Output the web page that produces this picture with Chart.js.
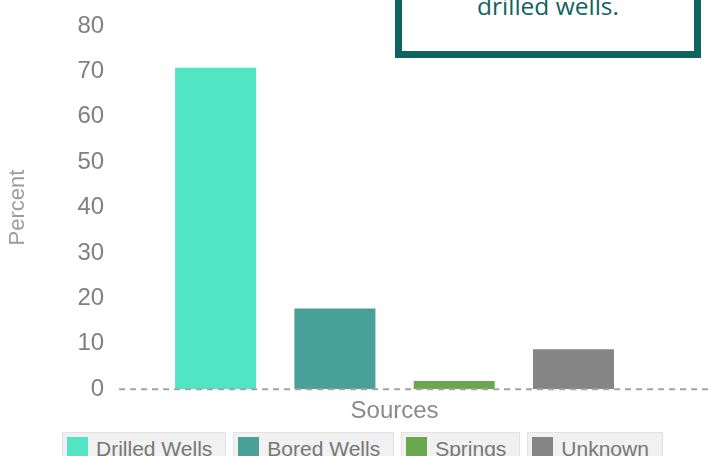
<!DOCTYPE html>
<html lang="en">
<head>
<meta charset="UTF-8">
<title>Sources</title>
<script src="https://cdn.jsdelivr.net/npm/chart.js"></script>
<style>
    body { margin: 0; background: #fff; width: 708px; height: 456px; overflow: hidden; position: relative; font-family: "Liberation Sans", Arial, sans-serif; }
    .grafico { position: absolute; left: 0; top: 0; width: 708px; height: 428px; }
    .nota {
        position: absolute; left: 395px; top: -60px; width: 292px; height: 104px;
        border: 7px solid #0f6360; background: #fff;
        color: #0f6360; font-family: "Open Sans", sans-serif; font-size: 24.5px;
        text-align: center;
    }
    .nota p { margin: 0; position: absolute; left: 0; right: 0; top: 45px; line-height: 28px; }
    #legenda { position: absolute; left: 62px; top: 432px; display: flex; gap: 7px; }
    .item {
        display: flex; align-items: flex-start; height: 30px; box-sizing: border-box;
        background: #f1f1f1; border: 1px solid #e2e2e2; padding: 4px 13px 0 4px;
        color: #777; font-size: 21px; line-height: 24px;
    }
    .item span.cor { width: 21px; height: 26px; margin-right: 8px; display: inline-block; }
</style>
</head>
<body>
<div class="grafico"><canvas id="myChart"></canvas></div>
<div class="nota"><p>drilled wells.</p></div>
<div id="legenda"></div>

<script>
    // dados
    var fontes = ['Drilled Wells', 'Bored Wells', 'Springs', 'Unknown'];
    var percentuais = [71, 18, 2, 9];
    var cores = ['#52e5c4', '#49a098', '#6aa84f', '#858585'];
    var categorias = ['Sources'];
    var yMax = 80;
    var yPasso = 10;

    var datasets = fontes.map(function(nome, i) {
        return {
            label: nome,
            data: [percentuais[i]],
            backgroundColor: cores[i],
            borderColor: 'rgba(255,255,255,0.4)',
            borderWidth: 1
        };
    });

    // linha tracejada no zero, ate a borda direita
    var linhaZero = {
        id: 'linhaZero',
        afterDatasetsDraw: function(chart) {
            var ctx = chart.ctx;
            var y = chart.scales.y.getPixelForValue(0);
            ctx.save();
            ctx.strokeStyle = '#a3a3a3';
            ctx.lineWidth = 2;
            ctx.setLineDash([6, 5]);
            ctx.beginPath();
            ctx.moveTo(chart.chartArea.left + 1, y);
            ctx.lineTo(chart.width, y);
            ctx.stroke();
            ctx.restore();
        }
    };

    var config = {
        type: 'bar',
        data: { labels: categorias, datasets: datasets },
        options: {
            responsive: true,
            maintainAspectRatio: false,
            animation: false,
            categoryPercentage: 0.863,
            barPercentage: 0.696,
            layout: { padding: { top: 0, right: 37, bottom: 0, left: 3 } },
            plugins: {
                legend: { display: false },
                tooltip: { enabled: false }
            },
            scales: {
                x: {
                    grid: { display: false, drawTicks: false },
                    border: { display: false },
                    ticks: { display: false },
                    title: {
                        display: true,
                        text: 'Sources',
                        color: '#8a8a8a',
                        font: { family: 'Liberation Sans', size: 24 },
                        padding: { top: 8, bottom: 2 }
                    }
                },
                y: {
                    min: 0,
                    max: yMax,
                    grid: { display: false, drawTicks: false },
                    border: { display: false },
                    ticks: {
                        stepSize: yPasso,
                        color: '#808080',
                        padding: 14,
                        font: { family: 'Liberation Sans', size: 24, lineHeight: 1 }
                    },
                    title: {
                        display: true,
                        text: 'Percent',
                        color: '#9c9c9c',
                        font: { family: 'Liberation Sans', size: 22 },
                        padding: { top: 2, bottom: 32 }
                    }
                }
            }
        },
        plugins: [linhaZero]
    };

    var myChart = new Chart(document.getElementById('myChart'), config);

    // legenda em html
    var legenda = document.getElementById('legenda');
    myChart.options.plugins.legend.labels.generateLabels(myChart).forEach(function(item) {
        var div = document.createElement('div');
        div.className = 'item';
        div.innerHTML = '<span class="cor" style="background:' + item.fillStyle + '"></span>' + item.text;
        legenda.appendChild(div);
    });
</script>
</body>
</html>
